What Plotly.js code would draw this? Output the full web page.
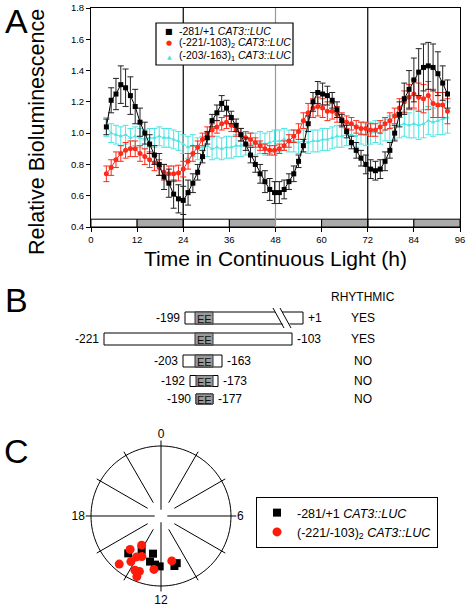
<!DOCTYPE html>
<html><head><meta charset="utf-8">
<script src="https://cdn.plot.ly/plotly-3.0.1.min.js"></script>
<style>html,body{margin:0;padding:0;background:#fff}#chart{width:466px;height:606px}</style>
</head><body><div id="chart"></div>
<script>
// ---------- Panel A data ----------
const timeH = [4.0,5.25,6.5,7.75,9.0,10.25,11.5,12.75,14.0,15.25,16.5,17.75,19.0,20.25,21.5,22.75,24.0,25.25,26.5,27.75,29.0,30.25,31.5,32.75,34.0,35.25,36.5,37.75,39.0,40.25,41.5,42.75,44.0,45.25,46.5,47.75,49.0,50.25,51.5,52.75,54.0,55.25,56.5,57.75,59.0,60.25,61.5,62.75,64.0,65.25,66.5,67.75,69.0,70.25,71.5,72.75,74.0,75.25,76.5,77.75,79.0,80.25,81.5,82.75,84.0,85.25,86.5,87.75,89.0,90.25,91.5,92.75];
const fullLen = [1.04,1.21,1.25,1.31,1.29,1.24,1.17,1.07,1.00,0.93,0.86,0.80,0.72,0.68,0.61,0.58,0.57,0.62,0.68,0.75,0.85,0.97,1.08,1.13,1.19,1.16,1.10,1.05,0.99,0.93,0.86,0.80,0.74,0.69,0.64,0.62,0.62,0.64,0.69,0.74,0.82,0.92,1.06,1.20,1.26,1.25,1.24,1.21,1.15,1.08,1.01,0.94,0.89,0.84,0.80,0.77,0.76,0.77,0.82,0.89,1.00,1.12,1.22,1.28,1.34,1.39,1.42,1.43,1.42,1.38,1.32,1.25];
const fullLenErr = [.05,.08,.10,.12,.12,.12,.11,.09,.07,.06,.06,.07,.08,.09,.09,.09,.09,.08,.06,.05,.04,.04,.04,.05,.05,.05,.04,.04,.04,.04,.05,.05,.06,.07,.07,.07,.07,.06,.05,.05,.04,.04,.05,.06,.07,.07,.06,.05,.05,.04,.04,.04,.05,.05,.06,.06,.06,.06,.06,.05,.05,.08,.10,.12,.14,.15,.15,.15,.15,.14,.11,.09];
const dimer = [0.74,0.78,0.83,0.87,0.89,0.90,0.90,0.87,0.85,0.83,0.81,0.78,0.75,0.74,0.74,0.745,0.77,0.82,0.87,0.91,0.96,1.00,1.02,1.04,1.06,1.07,1.05,1.02,0.99,0.97,0.96,0.94,0.92,0.90,0.89,0.89,0.90,0.92,0.95,0.98,1.01,1.08,1.13,1.16,1.17,1.16,1.14,1.14,1.12,1.09,1.07,1.06,1.04,1.03,1.03,1.02,1.02,1.04,1.06,1.08,1.11,1.16,1.20,1.23,1.25,1.23,1.22,1.24,1.19,1.18,1.18,1.14];
const dimerErr = [.05,.05,.05,.05,.05,.05,.05,.05,.05,.05,.05,.05,.05,.05,.05,.05,.05,.05,.05,.04,.04,.04,.04,.04,.04,.04,.04,.04,.04,.04,.04,.03,.03,.03,.03,.03,.03,.03,.04,.04,.05,.05,.06,.06,.06,.06,.06,.05,.05,.04,.04,.04,.04,.04,.04,.04,.04,.04,.04,.05,.05,.06,.07,.08,.09,.09,.09,.09,.09,.08,.08,.08];
const monomer = [1.04,1.00,0.99,0.98,0.99,0.97,0.98,0.97,0.96,0.97,0.97,0.98,0.97,0.97,0.96,0.95,0.93,0.91,0.92,0.90,0.91,0.92,0.90,0.91,0.90,0.91,0.91,0.92,0.92,0.93,0.93,0.93,0.94,0.93,0.94,0.95,0.95,0.96,0.95,0.95,0.94,0.95,0.94,0.95,0.95,0.96,0.96,0.97,0.98,0.98,0.99,0.99,0.98,1.00,0.99,1.00,1.01,1.00,1.02,1.03,1.04,1.05,1.06,1.05,1.06,1.05,1.06,1.08,1.07,1.08,1.09,1.10];
const monomerErr = [.06,.06,.06,.06,.06,.06,.06,.06,.06,.06,.06,.06,.06,.06,.06,.06,.06,.07,.07,.07,.07,.07,.07,.07,.07,.07,.07,.07,.07,.07,.07,.07,.07,.07,.07,.07,.07,.07,.07,.07,.07,.07,.07,.07,.07,.07,.07,.07,.07,.07,.07,.07,.07,.07,.07,.07,.07,.07,.07,.08,.08,.08,.08,.08,.09,.09,.09,.09,.09,.09,.10,.10];
const seriesNames = ['-281/+1 <i>CAT3::LUC</i>','(-221/-103)<sub>2</sub> <i>CAT3::LUC</i>','(-203/-163)<sub>1</sub> <i>CAT3::LUC</i>'];
const xTicks = [0,12,24,36,48,60,72,84,96];
const yTicks = [0.4,0.6,0.8,1.0,1.2,1.4,1.6,1.8];
const dayLines = [24,48,72];
const subjNight = [[12,24],[36,48],[60,72],[84,96]];
const subjDay = [[0,12],[24,36],[48,60],[72,84]];

// ---------- Panel B data ----------
const constructLeft = ['-199','-221','-203','-192','-190'];
const constructRight = ['+1','-103','-163','-173','-177'];
const rhythmic = ['YES','YES','NO','NO','NO'];

// ---------- Panel C data ----------
const fullPhase = [14.75,13.97,12.8,12.9,12.47,12.1,10.77,11.0];
const fullAmp   = [0.71,0.56,0.55,0.67,0.70,0.72,0.71,0.74];
const dimerPhase = [14.85,14.24,14.73,14.23,14.05,13.69,13.71,13.42,13.45,12.5,11.1];
const dimerAmp   = [0.65,0.50,0.91,0.78,0.68,0.64,0.86,0.85,0.93,0.77,0.66];
const clockLabels = ['0','6','12','18'];

// ---------- layout helpers (geometry, not data) ----------
const W = 466, H = 606;
const px = x => x / W, py = y => 1 - y / H;
const FONT = 'Liberation Sans, Arial, Helvetica, sans-serif';
const RED = '#ff2a1a', CYAN = '#4fe3e3';

// schematic geometry for panel B (px units)
const geo = {
  rowY: [318,339,361,381,399], rowH: [12,12,12,11,10],
  x0: [185,104,183,190,196], x1: [303,292,222,218,213],
  ee0: [195,195,195,196,196], ee1: [213,213,213,213,213],
  colX: 363
};

const traces = [];
function series(y, err, name, color, symbol, size, errColor) {
  return {type:'scatter', mode:'lines+markers', x: timeH, y: y, name: name, showlegend:false,
    xaxis:'x', yaxis:'y', hoverinfo:'skip',
    line:{color:color, width:1},
    marker:{color:color, symbol:symbol, size:size},
    error_y:{type:'data', array: err, visible:true, color: errColor, thickness:1, width:3}};
}
traces.push(series(monomer, monomerErr, seriesNames[2], CYAN, 'triangle-up', 4, CYAN));
traces.push(series(dimer, dimerErr, seriesNames[1], RED, 'circle', 5, RED));
traces.push(series(fullLen, fullLenErr, seriesNames[0], '#000', 'square', 5, '#222'));

// Panel B boxes as horizontal bars
traces.push({type:'bar', orientation:'h', xaxis:'x2', yaxis:'y2', showlegend:false, hoverinfo:'skip',
  y: geo.rowY, base: geo.x0, x: geo.x0.map((v,i)=>geo.x1[i]-v), width: geo.rowH,
  marker:{color:'#fff', line:{color:'#000', width:1}}});
traces.push({type:'bar', orientation:'h', xaxis:'x2', yaxis:'y2', showlegend:false, hoverinfo:'skip',
  y: geo.rowY, base: geo.ee0, x: geo.ee0.map((v,i)=>geo.ee1[i]-v), width: geo.rowH,
  marker:{color:'#9a9a9a', line:{color:'#333', width:1}}});

// Panel C clock face
const spokeR = [], spokeT = [];
for (let h = 0; h < 24; h += 2) {
  const card = (h % 6 === 0);
  spokeR.push(card ? 0.09 : 0.22, card ? 1.08 : 1.06, null);
  spokeT.push(h*15, h*15, null);
}
traces.push({type:'scatterpolar', mode:'lines', r: spokeR, theta: spokeT, subplot:'polar',
  line:{color:'#000', width:1}, showlegend:false, hoverinfo:'skip', connectgaps:false});
const circT = [], circR = [];
for (let a = 0; a <= 360; a += 3) { circT.push(a); circR.push(1); }
traces.push({type:'scatterpolar', mode:'lines', r: circR, theta: circT, subplot:'polar',
  line:{color:'#000', width:1}, showlegend:false, hoverinfo:'skip'});
traces.push({type:'scatterpolar', mode:'markers', r: fullAmp, theta: fullPhase.map(h=>h*15), subplot:'polar',
  name: seriesNames[0], legend:'legend2', marker:{symbol:'square', size:8, color:'#000'}, hoverinfo:'skip'});
traces.push({type:'scatterpolar', mode:'markers', r: dimerAmp, theta: dimerPhase.map(h=>h*15), subplot:'polar',
  name: seriesNames[1], legend:'legend2', marker:{symbol:'circle', size:9, color:'#ff1a0a'}, hoverinfo:'skip'});

// ---------- shapes ----------
const shapes = [];
subjDay.forEach(d => shapes.push({type:'rect', xref:'x', yref:'y', x0:d[0], x1:d[1], y0:0.4, y1:0.45, fillcolor:'#fff', line:{color:'#000', width:1}, layer:'below'}));
subjNight.forEach(d => shapes.push({type:'rect', xref:'x', yref:'y', x0:d[0], x1:d[1], y0:0.4, y1:0.45, fillcolor:'#aaaaaa', line:{color:'#000', width:1}, layer:'below'}));
dayLines.forEach(d => shapes.push({type:'line', xref:'x', yref:'y', x0:d, x1:d, y0:0.4, y1:1.8, line:{color: d===48 ? '#999' : '#000', width:1.2}, layer:'below'}));
// panel A legend box
shapes.push({type:'rect', xref:'paper', yref:'paper', x0:px(156), x1:px(293), y0:py(65), y1:py(23), fillcolor:'#fff', line:{color:'#000', width:1.2}, layer:'above'});
// break marks on row 1 of panel B
shapes.push({type:'path', xref:'x2', yref:'y2', path:'M 274 310 L 281 310 L 291 326 L 284 326 Z', fillcolor:'#fff', line:{width:0}});
shapes.push({type:'line', xref:'x2', yref:'y2', x0:273, y0:308, x1:284, y1:328, line:{color:'#000', width:1}});
shapes.push({type:'line', xref:'x2', yref:'y2', x0:280, y0:308, x1:291, y1:328, line:{color:'#000', width:1}});

// ---------- annotations ----------
const ann = [];
const big = t => ({text:t, showarrow:false, xref:'paper', yref:'paper', font:{family:FONT, size:34, color:'#000'}, xanchor:'center', yanchor:'middle'});
ann.push(Object.assign(big('A'), {x:px(16), y:py(21)}));
ann.push(Object.assign(big('B'), {x:px(16), y:py(300)}));
ann.push(Object.assign(big('C'), {x:px(16), y:py(451)}));
// y-axis title of panel A (placed as in the reference, slightly below the axis centre)
ann.push({text:'Relative Bioluminescence', showarrow:false, xref:'paper', yref:'paper', x:px(37), y:py(132),
  xanchor:'center', yanchor:'middle', textangle:-90, font:{family:FONT, size:21.5, color:'#000'}});
// panel A legend entries
const legY = [31, 43.5, 56];
const legGlyph = ['■','●','▲'];
const legColor = ['#000', RED, CYAN];
const legSize = [8, 7, 6];
[0,1,2].forEach((k,i) => {
  ann.push({text: legGlyph[k], showarrow:false, xref:'paper', yref:'paper', x:px(169), y:py(legY[i]), xanchor:'center', yanchor:'middle', font:{family:'DejaVu Sans', size:legSize[k], color:legColor[k]}});
  ann.push({text: seriesNames[k], showarrow:false, xref:'paper', yref:'paper', x:px(177), y:py(legY[i]), xanchor:'left', yanchor:'middle', font:{family:FONT, size:10.5, color:'#000'}});
});
// panel B labels
const bfont = {family:FONT, size:12, color:'#000'};
ann.push({text:'RHYTHMIC', showarrow:false, xref:'x2', yref:'y2', x:geo.colX, y:297, xanchor:'center', yanchor:'middle', font:bfont});
geo.rowY.forEach((y,i) => {
  ann.push({text: constructLeft[i], showarrow:false, xref:'x2', yref:'y2', x:geo.x0[i]-3, y:y, xanchor:'right', yanchor:'middle', font:bfont});
  ann.push({text: constructRight[i], showarrow:false, xref:'x2', yref:'y2', x:geo.x1[i]+3, y:y, xanchor:'left', yanchor:'middle', font:bfont});
  ann.push({text: rhythmic[i], showarrow:false, xref:'x2', yref:'y2', x:geo.colX, y:y, xanchor:'center', yanchor:'middle', font:bfont});
  ann.push({text: 'EE', showarrow:false, xref:'x2', yref:'y2', x:(geo.ee0[i]+geo.ee1[i])/2, y:y+0.5, xanchor:'center', yanchor:'middle', font:{family:FONT, size:11, color:'#111'}});
});

const layout = {
  width: W, height: H, margin:{l:0,r:0,t:0,b:0}, paper_bgcolor:'#fff', plot_bgcolor:'#fff',
  font:{family:FONT, color:'#000'}, barmode:'overlay', bargap:0,
  xaxis:{domain:[px(91), px(460)], range:[0,96], tickvals:xTicks, ticks:'outside', ticklen:4, tickcolor:'#000',
    showline:true, linecolor:'#000', linewidth:1, mirror:true, showgrid:false, zeroline:false,
    tickfont:{size:9.5}, title:{text:'Time in Continuous Light (h)', font:{size:21}, standoff:6}},
  yaxis:{domain:[py(227), py(8)], range:[0.4,1.8], tickvals:yTicks, tickformat:'.1f', ticks:'outside', ticklen:4, tickcolor:'#000',
    showline:true, linecolor:'#000', linewidth:1, mirror:true, showgrid:false, zeroline:false,
    tickfont:{size:9.5}},
  xaxis2:{domain:[0,1], range:[0,W], visible:false, fixedrange:true},
  yaxis2:{domain:[py(410), py(290)], range:[410,290], visible:false, fixedrange:true},
  polar:{domain:{x:[px(85.4), px(236.6)], y:[py(591.6), py(440.4)]}, bgcolor:'rgba(0,0,0,0)',
    radialaxis:{visible:false, range:[0,1.08]},
    angularaxis:{direction:'clockwise', rotation:90, tickmode:'array', tickvals:[0,90,180,270], ticktext:clockLabels,
      showgrid:false, showline:false, ticks:'', tickfont:{size:12}}},
  legend2:{x:px(256), y:py(497), xanchor:'left', yanchor:'top', bordercolor:'#000', borderwidth:1, bgcolor:'#fff',
    font:{family:FONT, size:12.5}},
  showlegend:true,
  shapes: shapes, annotations: ann
};
Plotly.newPlot('chart', traces, layout, {displayModeBar:false, staticPlot:true});
</script></body></html>
